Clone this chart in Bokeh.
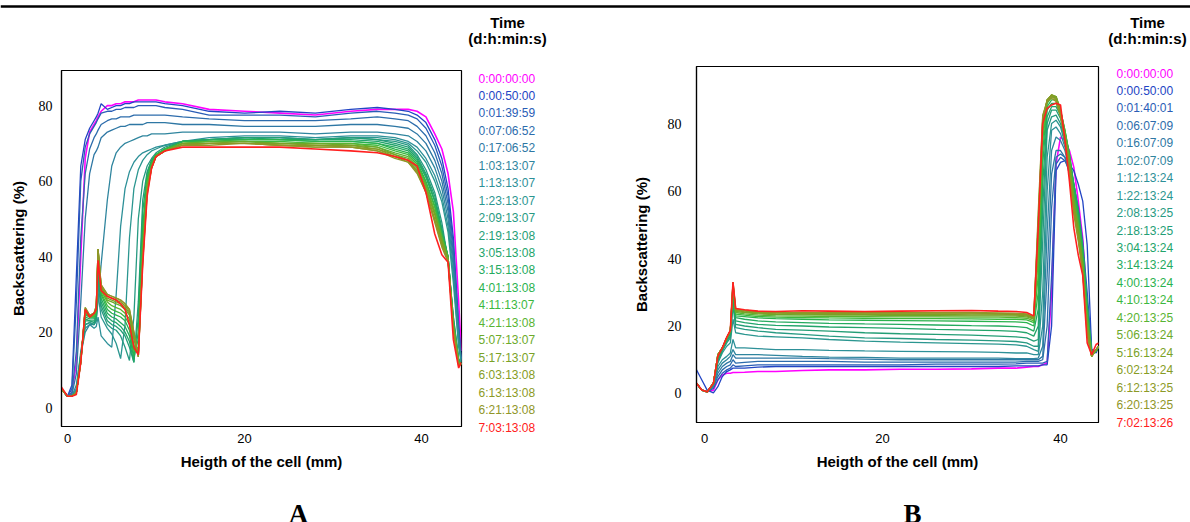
from bokeh.plotting import figure
from bokeh.layouts import row, column
from bokeh.models import Range1d, FixedTicker
from bokeh.core.properties import value
from bokeh.embed import file_html
from bokeh.resources import INLINE

# ---------------- panel A ----------------
height_a = [-0.7, 0.0, 0.5, 1.0, 1.5, 2.0, 2.5, 3.0, 3.25, 3.45, 3.8, 4.5, 5.0, 5.5, 6.0, 6.5,
            7.0, 7.5, 8.0, 8.5, 9.0, 9.5, 10.0, 11.0, 13.0, 16.0, 20.0, 24.0, 28.0, 32.0, 35.0,
            37.0, 38.5, 39.5, 40.5, 41.5, 42.3, 43.0, 43.6, 44.2, 44.5]

times_a = ["0:00:00:00", "0:00:50:00", "0:01:39:59", "0:07:06:52", "0:17:06:52", "1:03:13:07",
           "1:13:13:07", "1:23:13:07", "2:09:13:07", "2:19:13:08", "3:05:13:08", "3:15:13:08",
           "4:01:13:08", "4:11:13:07", "4:21:13:08", "5:07:13:07", "5:17:13:07", "6:03:13:08",
           "6:13:13:08", "6:21:13:08", "7:03:13:08"]

a00 = [5, 3, 4, 12, 40, 66, 73, 75, 76, 77, 78.5, 80, 80, 80.5, 80.5, 81, 81, 81, 81.5, 81.5, 81.5, 81.5, 81.5, 81, 80.5, 79, 78.5, 78, 77.5, 78.5, 79, 79, 79, 78.5, 77, 72.5, 68.5, 62, 52, 28, 15]
a01 = [5, 3, 6, 35, 64, 71, 74, 76, 77, 78, 80.5, 79, 79.5, 80, 80, 80.5, 80.5, 81, 81, 81, 81, 81, 81, 80.5, 80, 78.5, 78, 78.5, 78, 79, 79.5, 79, 78.5, 77.5, 75.5, 71, 66, 58, 45, 22, 13]
a02 = [5, 3, 5, 28, 60, 69, 72.5, 74.5, 75.5, 76.5, 78, 78.5, 78.5, 79, 79, 79.5, 79.5, 79.5, 80, 80, 80, 80, 80, 79.5, 79, 77.5, 77.5, 77.5, 77, 78, 78.5, 78, 77.5, 76.5, 74, 69.5, 64, 56, 43, 21, 13]
a03 = [5, 3, 4, 15, 45, 62, 68.5, 71.5, 72.5, 73.5, 75, 76, 76.5, 76.5, 77, 77, 77, 77.5, 77.5, 77.5, 77.5, 77.5, 77.5, 77.5, 77, 76.5, 76, 76, 76, 76.5, 77, 76.5, 76, 74.5, 72, 67.5, 62, 54, 41, 20, 13]
a04 = [5, 3, 3.5, 9, 28, 50, 62, 67, 68, 69, 71.5, 73, 73.5, 74, 74.5, 74.5, 75, 75, 75, 75, 75.5, 75.5, 75.5, 75.5, 75, 75, 74.5, 74.5, 74.5, 75, 75, 74.5, 74, 72.5, 70, 65.5, 60, 52, 39, 19, 12.5]
a05 = [5, 3, 3, 6, 14, 20, 22, 22, 24, 28, 38, 55, 64, 67.5, 69, 70, 70.5, 71, 71.5, 72, 72, 72.5, 72.5, 72.5, 73, 73, 73, 73, 72.5, 73, 73, 72.5, 72, 70.5, 68, 63.5, 58, 50, 37, 18, 12.5]
a06 = [5, 3, 3, 5, 15, 21, 22, 21, 21.5, 24, 19, 17, 16, 30, 48, 58, 62.5, 65, 66.5, 67.5, 68, 68.5, 69, 69.5, 70.5, 71.5, 72, 72, 71.5, 72, 72, 71.5, 70.5, 69, 66, 61.5, 56, 48, 35, 17, 12]
a07 = [5, 3, 3, 4.5, 14, 22, 22.5, 22, 23, 30, 24, 21, 19.5, 17, 13, 22, 45, 58, 63, 65.5, 67, 68, 68.5, 69.5, 70.5, 71, 71.5, 71.5, 71, 71.5, 71.5, 71, 70, 68, 65, 60, 54.5, 46.5, 33, 16, 12]
a08 = [5, 3, 3, 4, 14, 22, 22.5, 22, 23, 33, 26, 22, 21, 20.5, 19, 16, 12.5, 24, 50, 60, 64, 66, 67.5, 69, 70.5, 71, 71.5, 71.5, 71, 71.5, 71, 70.5, 69.5, 67, 63, 57, 49, 39, 24, 13, 11.5]
a09 = [5, 3, 3, 4, 13, 23, 23, 22.5, 23.5, 35, 27, 23, 22, 21.5, 20.5, 19, 16, 12, 28, 55, 62.5, 65.5, 67, 68.5, 70.5, 71, 71.5, 71.5, 71, 71.5, 71, 70, 69, 66.5, 62, 56, 47.5, 39.5, 24, 12.5, 11.5]
a10 = [5, 3, 3, 4, 13, 23.5, 23, 23, 24, 37, 28, 24, 23, 22.5, 21.5, 20, 17.5, 12, 24, 52, 62, 65.5, 67, 68.5, 70.5, 71, 71.5, 71, 71, 71, 70.5, 69.5, 68.5, 66, 61.5, 55, 47, 40, 23, 12.5, 11.5]
a11 = [5, 3, 3, 4, 13, 24, 23.5, 23.5, 24.5, 38, 29, 25, 24, 23.5, 22.5, 21.5, 19, 13, 20, 48, 61, 65, 67, 68.5, 70.5, 71, 71, 71, 70.5, 70.5, 70, 69, 68, 65.5, 61, 54.5, 46.5, 40, 23, 12.5, 11.5]
a12 = [5, 3, 3, 4, 13, 24.5, 24, 24, 25, 39, 30, 26, 25, 24.5, 24, 23, 20.5, 14, 18, 46, 60.5, 65, 67, 68.5, 70.5, 70.5, 71, 71, 70.5, 70.5, 70, 68.5, 67.5, 65, 60, 53.5, 46, 40, 22.5, 12, 11.5]
a13 = [5, 3, 3, 4, 12.5, 25, 24, 24, 25.5, 40, 30.5, 27, 26, 25.5, 25, 24, 22, 15, 16, 44, 60, 64.5, 67, 68.5, 70, 70.5, 70.5, 70.5, 70, 70, 69.5, 68, 67, 64.5, 59.5, 53, 45.5, 40, 22, 12, 11.5]
a14 = [5, 3, 3, 4, 12.5, 25.5, 24, 24.5, 26, 41, 31, 28, 27, 26.5, 26, 25, 23.5, 16.5, 14.5, 42, 59, 64, 66.5, 68, 70, 70.5, 70.5, 70, 70, 70, 69, 67.5, 66.5, 64, 59, 52, 45, 39.5, 22, 12, 11.5]
a15 = [5, 3, 3, 4, 12, 26, 24, 24.5, 26, 41.5, 31.5, 28.5, 28, 27.5, 27, 26, 24.5, 18, 14, 41, 58.5, 64, 66.5, 68, 70, 70, 70.5, 70, 70, 69.5, 69, 67, 66, 63.5, 58.5, 51.5, 44.5, 39.5, 21.5, 12, 11.5]
a16 = [5, 3, 3, 4, 12, 26, 24, 25, 26.5, 42, 32, 29, 28.5, 28, 27.5, 26.5, 25, 19, 13.5, 40, 58, 63.5, 66.5, 68, 70, 70, 70, 70, 69.5, 69.5, 68.5, 67, 65.5, 63, 58, 51, 44, 39, 21.5, 11.5, 11.5]
a17 = [5, 3, 3, 4, 12, 26, 24, 25, 26.5, 42, 32, 29.5, 29, 28.5, 28, 27, 25.5, 19.5, 13.5, 39.5, 57.5, 63.5, 66.5, 68, 69.5, 70, 70, 69.5, 69.5, 69, 68.5, 66.5, 65.5, 62.5, 57.5, 50, 43.5, 39, 21, 11.5, 11.5]
a18 = [5, 3, 3, 4, 12, 26.5, 24.5, 25, 27, 42, 32.5, 30, 29.5, 29, 28.5, 27.5, 26, 20, 13.5, 39, 57, 63.5, 66.5, 68, 69.5, 70, 70, 69.5, 69, 69, 68, 66.5, 65, 62.5, 57, 49.5, 43, 39, 21, 11.5, 11.5]
a19 = [5, 3, 3, 4, 12, 26.5, 24.5, 25, 27, 42, 32.5, 30, 29.5, 29, 28.5, 27.5, 26, 20, 13.5, 38.5, 56.5, 63.5, 66.5, 68, 69.5, 69.5, 70, 69.5, 69, 69, 68, 66, 65, 62, 57, 49, 42.5, 38.5, 20.5, 11, 11.5]
a20 = [5.5, 3, 3, 3.5, 12, 26, 24, 25, 26, 39, 31, 29.5, 29, 28.5, 27.5, 26, 22, 16, 14, 38, 56, 63.5, 66.5, 68, 69, 69, 69, 69, 68.5, 68, 67.5, 66.5, 65.5, 64, 57, 46, 40.5, 38.5, 18, 10.5, 12]

# ---------------- panel B ----------------
height_b = [-0.9, -0.3, 0.3, 1.0, 1.5, 2.0, 2.5, 2.9, 3.2, 3.5, 4.5, 6.0, 8.0, 11.0, 14.0, 18.0,
            22.0, 26.0, 30.0, 33.0, 35.0, 36.2, 37.0, 37.5, 38.0, 38.5, 39.0, 39.5, 40.0, 40.5,
            41.0, 41.5, 42.0, 42.5, 43.0, 43.5, 44.0, 44.3]

times_b = ["0:00:00:00", "0:00:50:00", "0:01:40:01", "0:06:07:09", "0:16:07:09", "1:02:07:09",
           "1:12:13:24", "1:22:13:24", "2:08:13:25", "2:18:13:25", "3:04:13:24", "3:14:13:24",
           "4:00:13:24", "4:10:13:24", "4:20:13:25", "5:06:13:24", "5:16:13:24", "6:02:13:24",
           "6:12:13:25", "6:20:13:25", "7:02:13:26"]

b00 = [3, 1, 0.5, 1, 4, 5.5, 6, 6, 6.2, 6.2, 6.3, 6.5, 6.5, 6.8, 7, 7, 7.2, 7.2, 7.3, 7.5, 7.5, 7.8, 8, 8, 8.5, 9, 30, 68, 76, 75, 72, 67, 57, 46, 26, 12, 13, 14]
b01 = [7, 4, 1, 0.2, 2, 5, 6.5, 7, 7.5, 7.5, 7.5, 7.8, 8, 8, 8, 8, 8, 8, 8, 8, 8.2, 8.2, 8.2, 8.2, 8.5, 8.5, 20, 66, 68.5, 69, 68, 66, 62, 57, 44, 13, 12, 14]
b02 = [3, 1, 0.5, 1.5, 4, 6, 7, 7.5, 8.5, 8, 8.2, 8.5, 8.5, 8.5, 8.5, 8.5, 8.5, 8.7, 8.7, 8.7, 8.8, 9, 9, 9, 9, 9.5, 35, 68, 70, 69, 66, 62, 55, 45, 30, 13, 12.5, 14]
b03 = [3, 1, 0.5, 2, 5, 7, 8, 8.5, 10, 9, 9.2, 9.5, 9.5, 9.5, 9.5, 9.3, 9.3, 9.3, 9.3, 9.3, 9.3, 9.5, 9.5, 9.5, 10, 20, 55, 70, 71, 70, 66, 60, 52, 42, 27, 12.5, 12.5, 14]
b04 = [3, 1, 0.5, 2, 6, 8, 9, 9.5, 11.5, 10.5, 10.5, 10.5, 10.5, 10.5, 10.3, 10.2, 10, 10, 10, 10, 10, 10, 10, 10, 11, 35, 65, 72, 72, 70, 65, 58, 50, 40, 25, 12.5, 12.5, 14]
b05 = [3, 1, 0.5, 2.5, 7, 9, 10, 11, 13, 11.5, 11.5, 11.5, 11.3, 11, 10.8, 10.7, 10.5, 10.5, 10.5, 10.5, 10.3, 10.3, 10.3, 10.5, 14, 48, 72, 76, 75, 72, 66, 59, 51, 41, 25, 12.5, 12.5, 14]
b06 = [3, 1, 0.5, 2.5, 8, 10, 11, 12, 16, 13.5, 13.5, 13.3, 13, 13, 12.8, 12.6, 12.5, 12.4, 12.3, 12.2, 12, 12, 11.5, 11.5, 20, 60, 78, 79, 77, 73, 67, 60, 52, 42, 25, 12.5, 12.5, 14]
b07 = [3, 1, 0.5, 3, 9, 12, 14, 15, 22, 18, 17.5, 17, 16.8, 16.5, 16, 15.5, 15.2, 15, 14.8, 14.6, 14.4, 14, 13, 12.5, 30, 70, 80, 81, 79, 74, 68, 61, 53, 43, 26, 12, 12.5, 14]
b08 = [3, 1, 0.5, 3, 9.5, 12.5, 15, 16.5, 26, 19.5, 19, 18.5, 18, 17.5, 17, 16.5, 16.3, 16, 15.8, 15.6, 15.4, 15, 14, 14, 45, 78, 82, 82.5, 80, 75, 69, 62, 54, 43, 26, 12, 12.5, 14]
b09 = [3, 1, 0.5, 3, 10, 13, 15.5, 17, 28, 20.5, 20, 19.5, 19, 18.8, 18.5, 18, 17.7, 17.5, 17.3, 17, 16.8, 16.5, 15.5, 16, 55, 80, 84, 84, 81.5, 76, 70, 62, 54, 43, 26, 12, 12.5, 14]
b10 = [3, 1, 0.5, 3, 10, 13, 16, 17.5, 29, 21.5, 21, 20.5, 20.2, 20, 19.7, 19.5, 19.3, 19, 18.8, 18.6, 18.4, 18, 17, 20, 62, 82, 85, 85, 82.5, 77, 71, 62, 54, 43, 26, 12, 12.5, 14]
b11 = [3, 1, 0.5, 3, 10.5, 13.5, 16, 18, 30, 22.5, 22, 21.5, 21.2, 21, 20.8, 20.6, 20.5, 20.3, 20.1, 20, 19.8, 19.5, 18.5, 25, 68, 84, 86, 86, 83, 77.5, 71, 61, 53, 42, 25, 12, 12.5, 14]
b12 = [3, 1, 0.5, 3, 11, 13.5, 16.2, 18.2, 31, 23, 22.8, 22.4, 22.2, 22, 21.8, 21.7, 21.6, 21.5, 21.4, 21.3, 21.2, 21, 20, 30, 72, 85, 87, 87, 84, 78, 71, 60, 52, 41, 24, 11.5, 12.5, 14]
b13 = [3, 1, 0.5, 3, 11, 13.5, 16.3, 18.3, 31.5, 23.5, 23.2, 22.8, 22.6, 22.5, 22.4, 22.3, 22.2, 22.2, 22.1, 22, 22, 21.8, 21, 35, 75, 86, 88, 87.5, 84, 78, 70, 59, 51, 40, 23, 11.5, 13, 14]
b14 = [3, 1, 0.5, 3, 11.5, 13.5, 16.4, 18.4, 32, 24, 23.6, 23.2, 23, 22.9, 22.8, 22.8, 22.7, 22.7, 22.6, 22.6, 22.5, 22.3, 21.5, 40, 77, 86.5, 88, 88, 84, 77.5, 70, 58, 50, 39, 22, 11, 13, 14]
b15 = [3, 1, 0.5, 3, 11.5, 13.5, 16.5, 18.5, 32, 24.3, 24, 23.6, 23.4, 23.3, 23.2, 23.2, 23.1, 23.1, 23, 23, 22.9, 22.7, 22, 44, 79, 87, 88.5, 88, 84, 77, 69, 57, 49, 38, 21, 11, 13, 14]
b16 = [3, 1, 0.5, 3, 11.5, 13.5, 16.5, 18.5, 32.5, 24.6, 24.2, 23.8, 23.6, 23.5, 23.4, 23.4, 23.4, 23.4, 23.3, 23.3, 23.2, 23, 22.2, 47, 80, 87, 88.5, 88, 83.5, 76.5, 68, 56, 48, 37, 20, 11, 13, 14]
b17 = [3, 1, 0.5, 3, 11.5, 13.5, 16.6, 18.6, 32.5, 24.8, 24.4, 24, 23.8, 23.7, 23.7, 23.6, 23.6, 23.6, 23.6, 23.5, 23.4, 23.2, 22.4, 50, 81, 87, 88.5, 87.5, 83, 76, 67, 55, 47, 36, 19, 11, 13, 14]
b18 = [3, 1, 0.5, 3, 11.5, 13.5, 16.6, 18.6, 33, 25, 24.6, 24.2, 24, 23.9, 23.9, 23.8, 23.8, 23.8, 23.8, 23.7, 23.6, 23.4, 22.6, 52, 82, 87, 88, 87, 82.5, 75.5, 66, 54, 46, 36, 18, 11, 13, 14]
b19 = [3, 1, 0.5, 3, 11.5, 13.5, 16.6, 18.6, 33, 25.1, 24.7, 24.3, 24.1, 24, 24, 24, 24, 24, 24, 23.9, 23.8, 23.6, 22.8, 54, 82.5, 86.5, 87.5, 86.5, 82, 75, 65, 53, 45, 35.5, 17, 11, 13, 14]
b20 = [3, 1, 0.5, 3, 11, 13.5, 16.7, 18.7, 33, 25.2, 24.8, 24.4, 24.3, 24.5, 24.4, 24.3, 24.4, 24.5, 24.6, 24.4, 24.3, 24, 23, 49, 80, 84.5, 85.5, 86, 85.5, 75, 63, 49, 41, 35, 15, 11.5, 14.5, 15]

curves_a = [a00, a01, a02, a03, a04, a05, a06, a07, a08, a09, a10,
            a11, a12, a13, a14, a15, a16, a17, a18, a19, a20]
curves_b = [b00, b01, b02, b03, b04, b05, b06, b07, b08, b09, b10,
            b11, b12, b13, b14, b15, b16, b17, b18, b19, b20]

x_ticks = [0, 20, 40]
y_ticks = [0, 20, 40, 60, 80]

# one colour per time step: magenta -> blue -> teal -> green -> olive -> red
COLORS = ["#ff00ff", "#2244c4", "#2a5db6", "#2d6cac", "#2e77a4", "#2f859e", "#2d9098",
          "#2b9690", "#279a82", "#249e76", "#22a46a", "#24aa5e", "#2ab24e", "#3cb83e",
          "#58b432", "#6caa2a", "#7aa226", "#869c24", "#8c9a26", "#909628", "#ff2020"]

SANS = "Liberation Sans"
SERIF = "Liberation Serif"
HEAD_H = 48      # top strip: black rule + "Time (d:h:min:s)" headers
ROW_TOP = HEAD_H
ROW_H = 442      # panels + legends
LETTER_H = 32    # strip holding the "A" / "B" captions


def panel(heights, curves, fig_x, fig_w, fr, tick_sd, xlab_sd, ylab_sd):
    left = fr["left"] - fig_x
    top = fr["top"] - ROW_TOP
    p = figure(width=fig_w, height=ROW_H,
               x_range=Range1d(*fr["xr"]), y_range=Range1d(*fr["yr"]),
               toolbar_location=None, output_backend="svg",
               min_border_left=left, min_border_right=fig_w - left - fr["w"],
               min_border_top=top, min_border_bottom=ROW_H - top - fr["h"])
    p.grid.visible = False
    p.outline_line_color = "black"
    p.outline_line_width = 1.2

    for i, ys in enumerate(curves):
        lw = 1.6 if i in (0, len(curves) - 1) else 1.3
        p.line(heights, ys, line_color=COLORS[i], line_width=lw)

    for ax in (p.xaxis[0], p.yaxis[0]):
        ax.axis_line_color = "black"
        ax.axis_line_width = 1.2
        ax.major_tick_in = 0
        ax.major_tick_out = 0
        ax.minor_tick_in = 0
        ax.minor_tick_out = 0
        ax.major_label_text_color = "black"
        ax.axis_label_text_font = SANS
        ax.axis_label_text_font_style = "bold"
        ax.axis_label_text_font_size = "15px"
        ax.axis_label_text_color = "black"

    p.xaxis.ticker = FixedTicker(ticks=x_ticks)
    p.xaxis.major_label_text_font = SANS
    p.xaxis.major_label_text_font_size = "13px"
    p.xaxis.major_label_standoff = tick_sd[0]
    p.xaxis.axis_label = "Heigth of the cell (mm)"
    p.xaxis.axis_label_standoff = xlab_sd

    p.yaxis.ticker = FixedTicker(ticks=y_ticks)
    p.yaxis.major_label_text_font = SERIF
    p.yaxis.major_label_text_font_size = "14px"
    p.yaxis.major_label_standoff = tick_sd[1]
    p.yaxis.axis_label = "Backscattering (%)"
    p.yaxis.axis_label_standoff = ylab_sd
    return p


def text_strip(x0, x1, y0, y1):
    # blank canvas whose ranges are page pixels, used for the text outside the plot boxes
    p = figure(width=x1 - x0, height=y1 - y0, x_range=Range1d(x0, x1), y_range=Range1d(y1, y0),
               toolbar_location=None, output_backend="svg", min_border=0,
               x_axis_location=None, y_axis_location=None, outline_line_color=None)
    p.grid.visible = False
    return p


def legend(x0, x1, times, leg_x, leg_y0):
    p = text_strip(x0, x1, ROW_TOP, ROW_TOP + ROW_H)
    ys = [leg_y0 + 17.45 * i for i in range(len(times))]
    p.text(x=[leg_x] * len(times), y=ys, text=times, text_color=COLORS[:len(times)],
           text_font=value(SANS), text_font_size="12px",
           text_align="left", text_baseline="middle")
    return p


frame_a = dict(left=61, top=70, w=400, h=356, xr=(-0.68, 44.52), yr=(-5.0, 89.3))
frame_b = dict(left=696, top=66, w=402, h=356, xr=(-0.9, 44.27), yr=(-8.6, 96.9))

pa = panel(height_a, curves_a, 0, 470, frame_a, (7, 9), 7, 9)
la = legend(470, 598, times_a, 478, 78)
pb = panel(height_b, curves_b, 598, 508, frame_b, (11, 15), 7, 15)
lb = legend(1106, 1190, times_b, 1116, 73)

# top strip: black rule across the page and the legend headers
head = text_strip(0, 1190, 0, HEAD_H)
head.segment(x0=[0], y0=[6], x1=[1190], y1=[6], line_color="black", line_width=2.5)
head_x = [507, 1147]
head.text(x=head_x + head_x, y=[22, 22, 38, 38],
          text=["Time", "Time", "(d:h:min:s)", "(d:h:min:s)"],
          text_font=value(SANS), text_font_size="15px", text_font_style="bold",
          text_color="black", text_align="center", text_baseline="middle")

letters = text_strip(0, 1190, ROW_TOP + ROW_H, ROW_TOP + ROW_H + LETTER_H)
letters.text(x=[298, 912], y=[513, 513], text=["A", "B"], text_font=value(SERIF),
             text_font_size="27px", text_font_style="bold", text_color="black",
             text_align="center", text_baseline="middle")

# each figure sits in its own column so the row does not line up their frames
layout = column(head, row(column(pa), column(la), column(pb), column(lb)), letters)
open("out.html", "w").write(file_html(layout, INLINE))
